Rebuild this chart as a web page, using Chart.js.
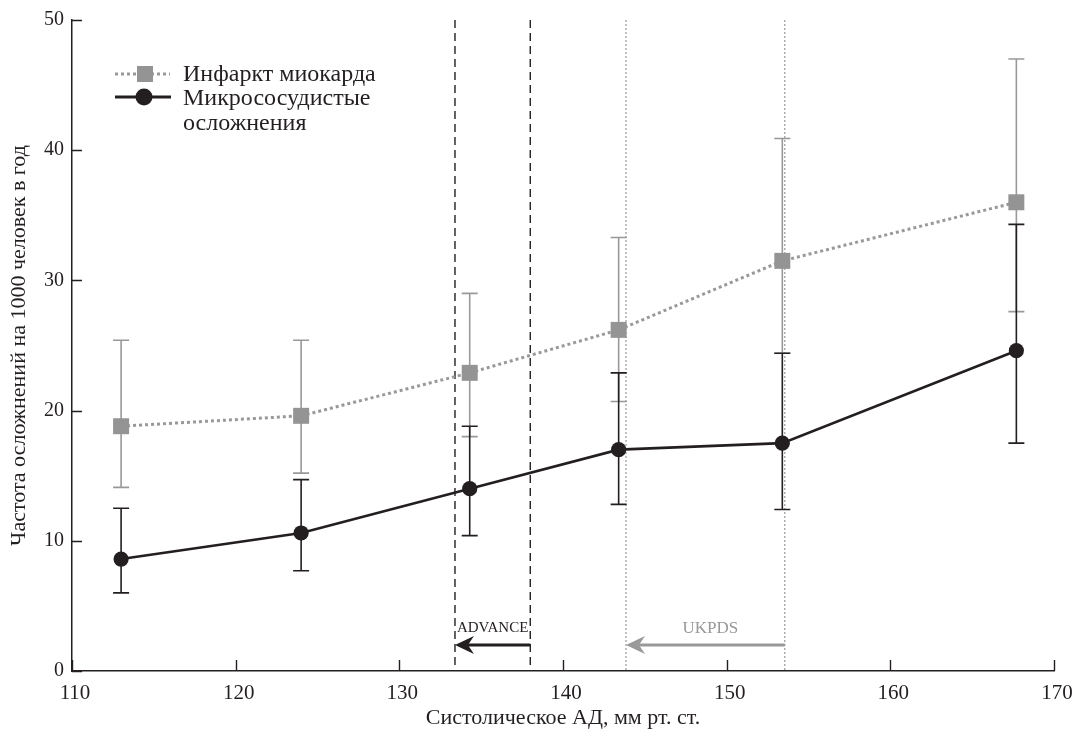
<!DOCTYPE html>
<html>
<head>
<meta charset="utf-8">
<script src="https://cdn.jsdelivr.net/npm/chart.js@4/dist/chart.umd.min.js"></script>
<style>
  html, body { margin: 0; padding: 0; background: #fff; }
  #wrap { width: 1075px; height: 734px; position: relative; }
</style>
</head>
<body>
<div id="wrap"><canvas id="chart"></canvas></div>
<script>
// systolic BP (x) for each group
const bpValues = [113.0, 124.0, 134.3, 143.4, 153.4, 167.7];

// myocardial infarction, per 1000 person-years
const infarct = [18.8, 19.6, 22.9, 26.2, 31.5, 36.0];
const infarctLow = [14.1, 15.2, 18.0, 20.7, 24.4, 27.6];
const infarctHigh = [25.4, 25.4, 29.0, 33.3, 40.9, 47.0];

// microvascular complications
const micro = [8.6, 10.6, 14.0, 17.0, 17.5, 24.6];
const microLow = [6.0, 7.7, 10.4, 12.8, 12.4, 17.5];
const microHigh = [12.5, 14.7, 18.8, 22.9, 24.4, 34.3];

// trial target ranges
const advanceRange = [133.4, 138.0];
const ukpdsRange = [143.85, 153.55];
const arrowLevel = 2.0;
const trialLabelLevel = 3.3;

const legendLabels = ['Инфаркт миокарда', ['Микрососудистые', 'осложнения']];
const xTitle = 'Систолическое АД, мм рт. ст.';
const yTitle = 'Частота осложнений на 1000 человек в год';

const INK = '#231f20';
const GREY = '#999999';
const FONT = "'Liberation Serif', 'Times New Roman', serif";

function pts(ys) {
  return ys.map((y, i) => ({ x: bpValues[i], y }));
}

function vline(ctx, area, x, dash, color, width) {
  ctx.save();
  ctx.strokeStyle = color;
  ctx.lineWidth = width;
  ctx.setLineDash(dash);
  ctx.beginPath();
  ctx.moveTo(x, area.top);
  ctx.lineTo(x, area.bottom);
  ctx.stroke();
  ctx.restore();
}

function arrowLeft(ctx, x0, x1, y, color) {
  // shaft from x1 back to x0, head pointing to x0
  ctx.save();
  ctx.strokeStyle = color;
  ctx.fillStyle = color;
  ctx.lineWidth = 3;
  ctx.beginPath();
  ctx.moveTo(x1, y);
  ctx.lineTo(x0 + 12, y);
  ctx.stroke();
  ctx.beginPath();
  ctx.moveTo(x0, y);
  ctx.lineTo(x0 + 19, y - 9);
  ctx.lineTo(x0 + 13, y);
  ctx.lineTo(x0 + 19, y + 9);
  ctx.closePath();
  ctx.fill();
  ctx.restore();
}

const overlay = {
  id: 'overlay',
  beforeDatasetsDraw(chart) {
    const { ctx, chartArea: area, scales: { x, y } } = chart;

    // trial boundaries
    advanceRange.forEach((v) => vline(ctx, area, x.getPixelForValue(v), [8, 5], INK, 1.4));
    ukpdsRange.forEach((v) => vline(ctx, area, x.getPixelForValue(v), [2, 2], GREY, 1.2));

    // error bars
    const bars = [
      { lo: infarctLow, hi: infarctHigh, color: GREY },
      { lo: microLow, hi: microHigh, color: INK }
    ];
    ctx.save();
    bars.forEach((b) => {
      ctx.strokeStyle = b.color;
      ctx.lineWidth = 1.6;
      bpValues.forEach((v, i) => {
        const px = x.getPixelForValue(v);
        const top = y.getPixelForValue(b.hi[i]);
        const bot = y.getPixelForValue(b.lo[i]);
        ctx.beginPath();
        ctx.moveTo(px, top);
        ctx.lineTo(px, bot);
        ctx.moveTo(px - 8, top);
        ctx.lineTo(px + 8, top);
        ctx.moveTo(px - 8, bot);
        ctx.lineTo(px + 8, bot);
        ctx.stroke();
      });
    });
    ctx.restore();

    // arrows and trial names
    const ay = y.getPixelForValue(arrowLevel);
    const ty = y.getPixelForValue(trialLabelLevel);
    arrowLeft(ctx, x.getPixelForValue(advanceRange[0]), x.getPixelForValue(advanceRange[1]), ay, INK);
    arrowLeft(ctx, x.getPixelForValue(ukpdsRange[0]), x.getPixelForValue(ukpdsRange[1]), ay, GREY);
    ctx.save();
    ctx.textAlign = 'center';
    ctx.textBaseline = 'middle';
    ctx.font = '15px ' + FONT;
    ctx.fillStyle = INK;
    ctx.fillText('ADVANCE', x.getPixelForValue((advanceRange[0] + advanceRange[1]) / 2), ty);
    ctx.font = '17px ' + FONT;
    ctx.fillStyle = GREY;
    ctx.fillText('UKPDS', x.getPixelForValue(149.0), ty);
    ctx.restore();
  },
  afterDraw(chart) {
    const { ctx, chartArea: area, scales: { x, y } } = chart;

    // inward tick marks
    ctx.save();
    ctx.strokeStyle = INK;
    ctx.lineWidth = 1.4;
    ctx.beginPath();
    x.ticks.forEach((t) => {
      const px = Math.round(x.getPixelForValue(t.value)) + 0.5;
      ctx.moveTo(px, area.bottom);
      ctx.lineTo(px, area.bottom - 11);
    });
    y.ticks.forEach((t) => {
      const py = Math.round(y.getPixelForValue(t.value)) + 0.5;
      ctx.moveTo(area.left, py);
      ctx.lineTo(area.left + 10, py);
    });
    ctx.stroke();
    ctx.restore();

    // legend
    ctx.save();
    ctx.lineWidth = 3;
    ctx.strokeStyle = GREY;
    ctx.setLineDash([3, 3]);
    ctx.beginPath();
    ctx.moveTo(115, 74);
    ctx.lineTo(170, 74);
    ctx.stroke();
    ctx.setLineDash([]);
    ctx.fillStyle = '#949494';
    ctx.fillRect(137, 66, 16, 16);
    ctx.strokeStyle = INK;
    ctx.lineWidth = 3;
    ctx.beginPath();
    ctx.moveTo(115, 97);
    ctx.lineTo(171, 97);
    ctx.stroke();
    ctx.fillStyle = INK;
    ctx.beginPath();
    ctx.arc(144, 97, 8.5, 0, Math.PI * 2);
    ctx.fill();
    ctx.font = '24px ' + FONT;
    ctx.textBaseline = 'alphabetic';
    ctx.fillText(legendLabels[0], 183, 81);
    ctx.fillText(legendLabels[1][0], 183, 105);
    ctx.fillText(legendLabels[1][1], 183, 130);
    ctx.restore();
  }
};

new Chart(document.getElementById('chart'), {
  type: 'line',
  data: {
    datasets: [
      {
        label: 'Инфаркт миокарда',
        data: pts(infarct),
        borderColor: GREY,
        borderWidth: 3,
        borderDash: [3, 3],
        pointStyle: 'rect',
        pointRadius: 11.3,
        pointBackgroundColor: '#949494',
        pointBorderWidth: 0,
        tension: 0
      },
      {
        label: 'Микрососудистые осложнения',
        data: pts(micro),
        borderColor: INK,
        borderWidth: 2.6,
        pointStyle: 'circle',
        pointRadius: 7.6,
        pointBackgroundColor: INK,
        pointBorderWidth: 0,
        tension: 0
      }
    ]
  },
  options: {
    responsive: true,
    maintainAspectRatio: false,
    animation: false,
    layout: { padding: { top: 20, right: 21, left: 0, bottom: 0 } },
    plugins: { legend: { display: false }, tooltip: { enabled: false } },
    scales: {
      x: {
        type: 'linear',
        min: 110,
        max: 170,
        grid: { display: false, drawTicks: false, tickLength: 0 },
        border: { display: true, color: INK, width: 1.5 },
        ticks: { stepSize: 10, padding: 10, labelOffset: 3, color: INK, font: { family: FONT, size: 21 } },
        title: { display: true, text: xTitle, color: INK, font: { family: FONT, size: 22 }, padding: { top: 0, bottom: 3 } },
        afterFit(scale) {
          scale.height = 63;
          scale.paddingLeft = 0;
          scale.paddingRight = 0;
        }
      },
      y: {
        min: 0,
        max: 50,
        grid: { display: false, drawTicks: false, tickLength: 0 },
        border: { display: true, color: INK, width: 1.5 },
        ticks: { stepSize: 10, padding: 8, color: INK, font: { family: FONT, size: 20 } },
        title: { display: true, text: yTitle, color: INK, font: { family: FONT, size: 22 }, padding: { top: 6, bottom: 0 } },
        afterFit(scale) {
          scale.width = 72;
          scale.paddingTop = 0;
          scale.paddingBottom = 0;
        }
      }
    }
  },
  plugins: [overlay]
});
</script>
</body>
</html>
